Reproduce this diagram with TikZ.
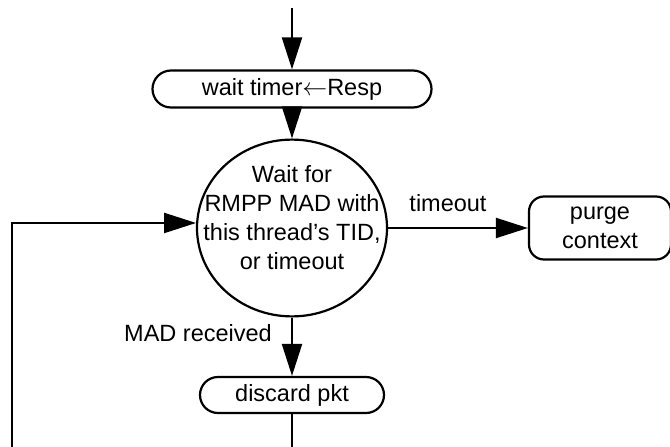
\documentclass[tikz,border=0pt]{standalone}
\usepackage{fontspec}
\setmainfont{Liberation Sans}
\usetikzlibrary{arrows.meta,positioning,shapes.misc,shapes.geometric}
\tikzset{
  flow/.style={line width=2.2pt,-{Triangle[length=32pt,width=20pt]}},
  pill/.style={rounded rectangle,draw,line width=2.2pt,inner sep=0pt,minimum height=37pt},
  state/.style={ellipse,draw,line width=2.2pt,inner xsep=-40pt,inner ysep=0pt,minimum width=190pt,minimum height=168pt,align=center},
  action/.style={rectangle,rounded corners=15pt,draw,line width=2.2pt,inner sep=0pt,minimum width=142pt,minimum height=63pt,align=center},
  lbl/.style={inner sep=0pt}
}

\begin{document}
\begin{tikzpicture}[x=1pt,y=-1pt,font=\fontsize{23.5}{29}\selectfont]
  \useasboundingbox (0,0) rectangle (670,447);
  % states and actions
  \node[pill,minimum width=279pt] (timer) at (292,89) {wait timer$\leftarrow$Resp};
  \node[state] (wait) at (292,228) {Wait for\\RMPP MAD with\\this thread’s TID,\\or timeout\\[-8pt]};
  \node[action] (purge) at (600,228) {purge\\context};
  \node[pill,minimum width=184pt,minimum height=36pt] (discard) at (292,395) {discard pkt};
  % loose ends
  \coordinate (entry) at (292,8);
  \coordinate (outR) at (292,447);
  \coordinate (outL) at (12,447);
  % connectors
  \draw[flow] (entry) -- (timer.north);
  \draw[flow] (timer.south) -- (wait.north);
  \draw[flow] (wait.east) -- (purge.west);
  \draw[flow] (wait.south) -- (discard.north);
  \draw[line width=2.2pt] (discard.south) -- (outR);
  \draw[flow] (outL) |- (wait.177);
  % labels
  \node[lbl] (tolbl) at (448,203) {timeout};
  \node[lbl] (madlbl) at (198,333) {MAD received};
\end{tikzpicture}
\end{document}
